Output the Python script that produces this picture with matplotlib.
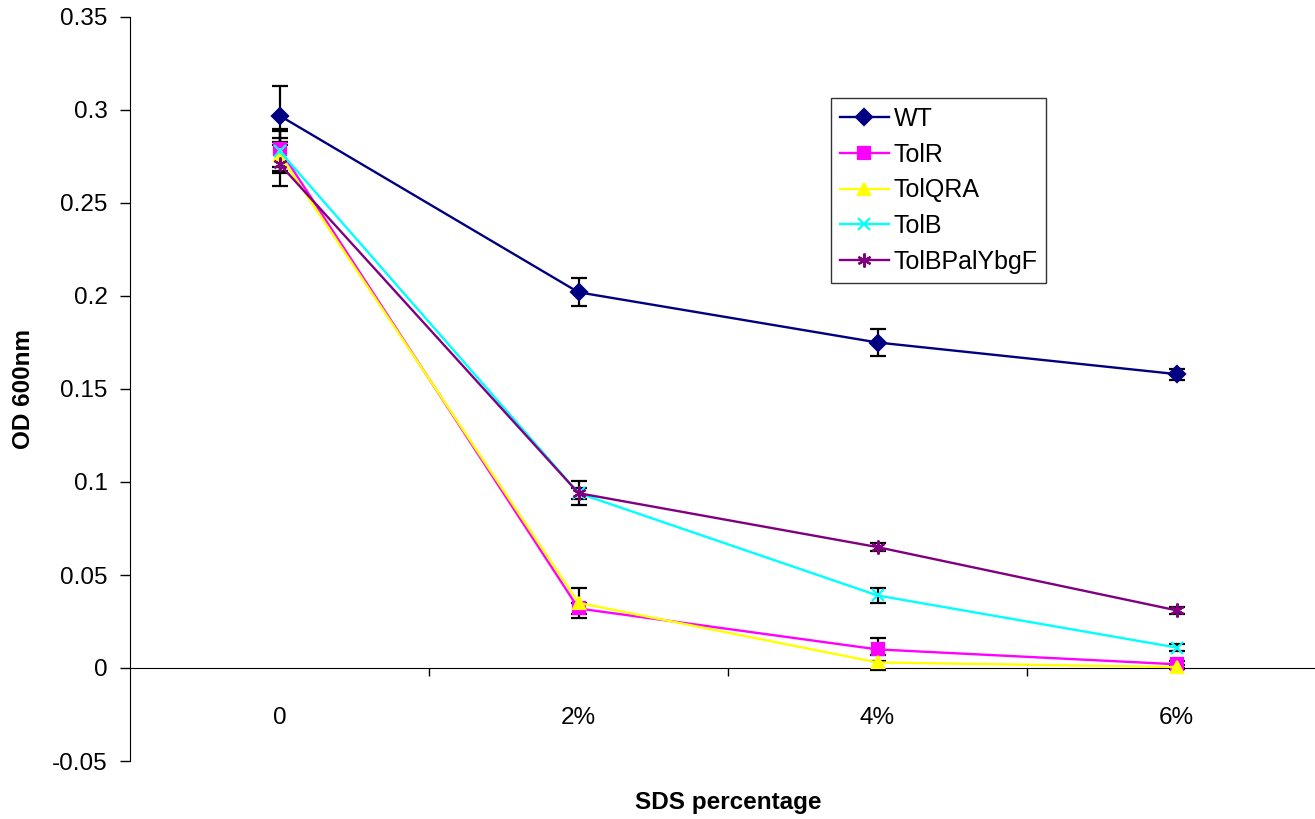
import matplotlib
matplotlib.use('Agg')
import matplotlib.pyplot as plt
from matplotlib.ticker import FixedLocator, FuncFormatter

plt.rcParams['font.family'] = ['Liberation Sans', 'DejaVu Sans']
plt.rcParams['axes.unicode_minus'] = False

# data
sds_labels = ['0', '2%', '4%', '6%']
wt = [0.297, 0.202, 0.175, 0.158]
wt_err = [0.016, 0.0075, 0.007, 0.003]
tolr = [0.279, 0.032, 0.010, 0.002]
tolr_err = [0.0095, 0.003, 0.006, 0.002]
tolqra = [0.276, 0.035, 0.003, 0.0005]
tolqra_err = [0.009, 0.008, 0.004, 0.001]
tolb = [0.278, 0.094, 0.039, 0.011]
tolb_err = [0.012, 0.0065, 0.004, 0.002]
tolbpal = [0.271, 0.094, 0.065, 0.031]
tolbpal_err = [0.012, 0.003, 0.002, 0.002]

series = [
    ('WT', wt, wt_err, '#000080', 'D', 8),
    ('TolR', tolr, tolr_err, '#FF00FF', 's', 8),
    ('TolQRA', tolqra, tolqra_err, '#FFFF00', '^', 9),
    ('TolB', tolb, tolb_err, '#00FFFF', 'x', 8),
    ('TolBPalYbgF', tolbpal, tolbpal_err, '#800080', (6, 2, 0), 10),
]

W, H = 1315, 819
fig = plt.figure(figsize=(W / 100, H / 100), dpi=100)
ax = fig.add_axes([130 / W, (H - 761) / H, 1196 / W, 744 / H])

x = list(range(len(sds_labels)))
for name, vals, err, col, mk, ms in series:
    ax.errorbar(x, vals, yerr=err, fmt='none', ecolor='black', elinewidth=1.6,
                capsize=6, capthick=1.6, zorder=2)
for i, (name, vals, err, col, mk, ms) in enumerate(series):
    ax.plot(x, vals, color=col, lw=1.7, marker=mk, markersize=ms,
            markerfacecolor=col, markeredgecolor=col, markeredgewidth=1.6,
            label=name, zorder=3 + i)

ax.set_xlim(-0.5, 3.5)
ax.set_ylim(-0.05, 0.35)

for s in ['top', 'right']:
    ax.spines[s].set_visible(False)
ax.spines['bottom'].set_position(('data', 0))
ax.spines['bottom'].set_color('black')
ax.spines['left'].set_color('black')

ax.set_yticks([-0.05 + 0.05 * k for k in range(9)])
ax.yaxis.set_major_formatter(FuncFormatter(lambda v, p: f'{round(v, 2):g}'))
ax.tick_params(axis='y', direction='out', length=7, width=1, pad=9, labelsize=17.5)

ax.set_xticks(x)
ax.set_xticklabels(sds_labels)
ax.xaxis.set_minor_locator(FixedLocator([0.5, 1.5, 2.5, 3.5]))
ax.tick_params(axis='x', which='major', length=0, pad=28, labelsize=17.5)
ax.tick_params(axis='x', which='minor', direction='out', length=6, width=1)

fig.text(24 / W, 1 - 389 / H, 'OD 600nm', rotation=90, ha='center', va='center',
         fontsize=17.5, fontweight='bold')
fig.text(728 / W, 1 - 803 / H, 'SDS percentage', ha='center', va='center',
         fontsize=17.5, fontweight='bold')

leg = ax.legend(loc='upper left', bbox_to_anchor=(831 / W, 1 - 98 / H),
                bbox_transform=fig.transFigure, fontsize=18, frameon=True,
                fancybox=False, edgecolor='black', handlelength=1.95,
                handletextpad=0.2, labelspacing=0.47, borderpad=0.35,
                borderaxespad=0)
leg.get_frame().set_linewidth(1)

fig.savefig('out.png', dpi=100)
